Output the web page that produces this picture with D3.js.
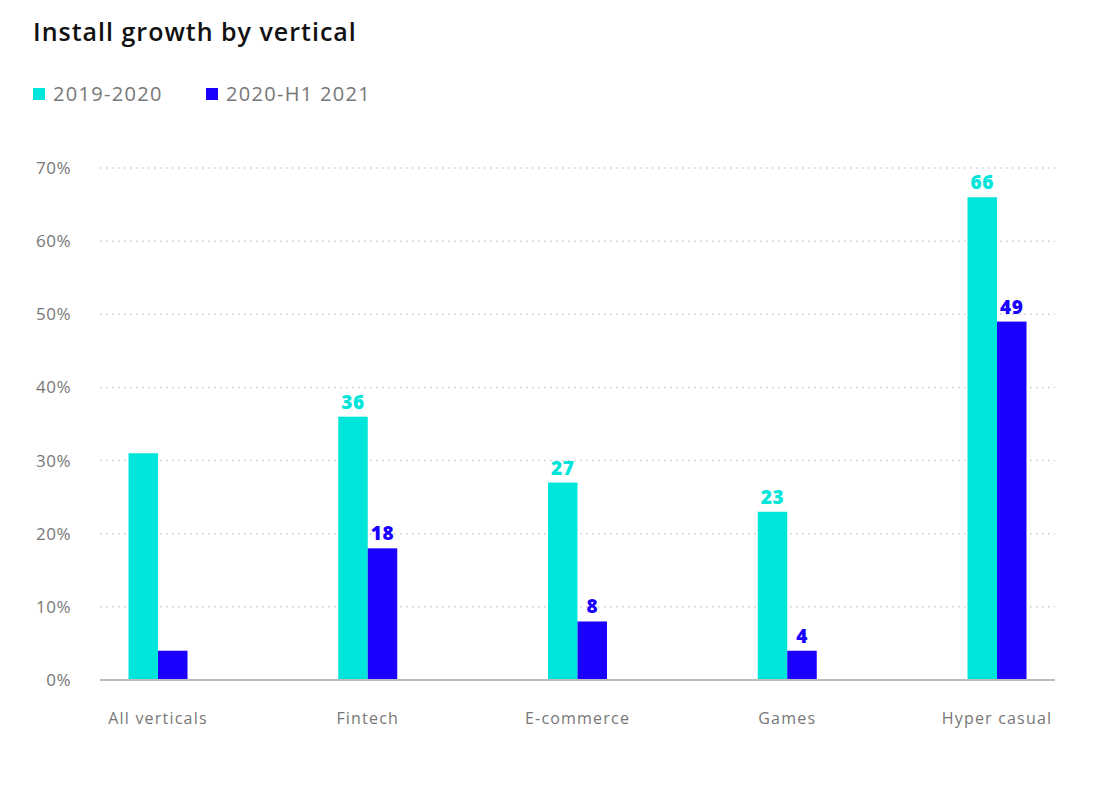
<!DOCTYPE html>
<html><head><meta charset="utf-8">
<script src="https://cdn.jsdelivr.net/npm/d3@7"></script>
<style>body{margin:0;background:#fff;} svg{display:block;font-family:"Open Sans","Noto Sans",sans-serif;}</style>
</head><body>
<svg id="chart" width="1118" height="788"></svg>
<script>
const categories = ["All verticals","Fintech","E-commerce","Games","Hyper casual"];
const seriesNames = ["2019-2020","2020-H1 2021"];
const values2019 = [31,36,27,23,66];
const values2020 = [4,18,8,4,49];
const showLabels = [false,true,true,true,true];
const yTicks = [0,10,20,30,40,50,60,70];
const colors = ["#00E5DA","#1A00FF"];

const svg = d3.select("#chart");
const y = d3.scaleLinear().domain([0,70]).range([680,168]);
const x = d3.scalePoint().domain(categories).range([158,997]);
const barW = 29.5;

svg.append("text").attr("x",33).attr("y",41).attr("font-size",25).attr("font-weight",600)
  .attr("letter-spacing",1).attr("fill","#111").text("Install growth by vertical");

const legendX = [33,206];
seriesNames.forEach((n,i)=>{
  svg.append("rect").attr("x",legendX[i]).attr("y",88).attr("width",12).attr("height",12).attr("fill",colors[i]);
  svg.append("text").attr("x",legendX[i]+20).attr("y",101).attr("font-size",20)
    .attr("letter-spacing",1.3).attr("fill","#777").text(n);
});

const gGrid = svg.append("g");
yTicks.forEach(t=>{
  if(t>0) gGrid.append("line").attr("x1",100).attr("x2",1055).attr("y1",y(t)).attr("y2",y(t))
    .attr("stroke","#c8c8c8").attr("stroke-width",1.5).attr("stroke-dasharray","1.5,4.5");
  svg.append("text").attr("x",71).attr("y",y(t)+6).attr("text-anchor","end").attr("font-size",17)
    .attr("letter-spacing",0.5).attr("fill","#777").text(t+"%");
});

const series = [values2019, values2020];
series.forEach((vals,si)=>{
  categories.forEach((c,ci)=>{
    const x0 = si===0 ? x(c)-barW : x(c);
    svg.append("rect").attr("x",x0).attr("y",y(vals[ci])).attr("width",barW)
      .attr("height",y(0)-y(vals[ci])).attr("fill",colors[si]);
    if(showLabels[ci]) svg.append("text").attr("x",x0+barW/2).attr("y",y(vals[ci])-8)
      .attr("text-anchor","middle").attr("font-size",19).attr("font-weight",800)
      .attr("letter-spacing",0.5).attr("fill",colors[si]).text(vals[ci]);
  });
});

svg.append("line").attr("x1",100).attr("x2",1055).attr("y1",680).attr("y2",680)
  .attr("stroke","#bdbdbd").attr("stroke-width",2);

categories.forEach(c=>{
  svg.append("text").attr("x",x(c)).attr("y",724).attr("text-anchor","middle").attr("font-size",16)
    .attr("letter-spacing",1.2).attr("fill","#777").text(c);
});
</script>
</body></html>
